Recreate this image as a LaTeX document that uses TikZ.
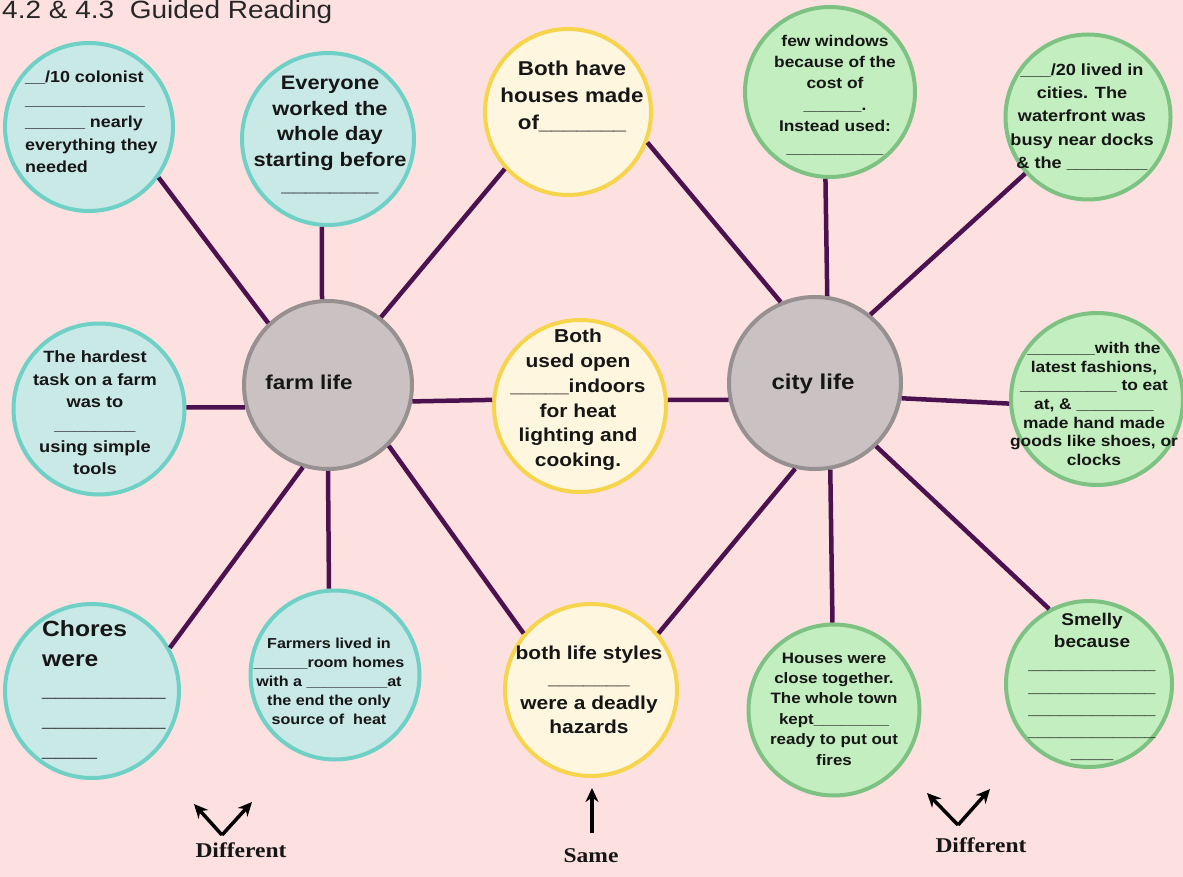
\documentclass[tikz,border=0pt]{standalone}
\usepackage{fontspec}
\setmainfont{Liberation Sans}[FakeStretch=1.12]
\newfontfamily\serifb{Liberation Serif}[FakeStretch=1.12]
\usetikzlibrary{arrows.meta}
\newcommand{\fsz}[2]{\fontsize{#1}{#2}\selectfont}
\definecolor{bgpink}{HTML}{FCE1E0}
\definecolor{tealfill}{HTML}{C9E9E7}
\definecolor{tealline}{HTML}{6FD0C6}
\definecolor{greenfill}{HTML}{C3EEBF}
\definecolor{greenline}{HTML}{7DC283}
\definecolor{yelfill}{HTML}{FFF6DF}
\definecolor{yelline}{HTML}{F6D44C}
\definecolor{greyfill}{HTML}{C9C1C2}
\definecolor{greyline}{HTML}{969090}
\definecolor{conncol}{HTML}{4B124F}
\definecolor{ink}{HTML}{161616}
\tikzset{
  circ/.style={circle, line width=4pt, inner sep=0pt, minimum size=#1},
  teal/.style={circ=#1, draw=tealline, fill=tealfill},
  grn/.style={circ=#1, draw=greenline, fill=greenfill},
  yel/.style={circ=#1, draw=yelline, fill=yelfill},
  gry/.style={circ=#1, draw=greyline, fill=greyfill},
  conn/.style={draw=conncol, line width=4.5pt},
  txt/.style={inner sep=0pt, text=ink, align=center},
  arr/.style={draw=black, line width=3.5pt, -{Stealth[length=14pt,width=13pt]}},
  lbl/.style={inner sep=0pt, text=ink, font=\serifb\bfseries\fsz{21}{24}},
}
\begin{document}
\begin{tikzpicture}[x=1pt,y=-1pt]
\useasboundingbox (0,0) rectangle (1183,877);
\fill[bgpink] (0,0) rectangle (1183,877);

\node[anchor=base west, inner sep=0pt, text=black!85, font=\fsz{25}{30}] (title) at (2,19) {4.2 \& 4.3\ \ Guided Reading};

% circles
\node[gry=168pt] (farm) at (328,385) {};
\node[gry=172pt] (city) at (815,383) {};
\node[teal=168pt] (c1) at (89,127) {};
\node[teal=172pt] (c2) at (328,139) {};
\node[yel=166pt] (c3) at (568,112) {};
\node[grn=170pt] (c4) at (830,92) {};
\node[grn=165pt] (c5) at (1088,117) {};
\node[grn=172pt] (c6) at (1097,399) {};
\node[teal=171pt] (c7) at (99,409) {};
\node[yel=172pt] (c8) at (580,406) {};
\node[yel=172pt] (c9) at (591,690) {};
\node[grn=171pt] (c10) at (834,710) {};
\node[grn=166pt] (c11) at (1089,684) {};
\node[teal=174pt] (c12) at (92,691) {};
\node[teal=169pt] (c13) at (335,675) {};

% connectors
\draw[conn] (farm.134) -- (c1.-36);
\draw[conn] (farm.94) -- (c2.-94);
\draw[conn] (farm.52) -- (c3.-138);
\draw[conn] (farm.195) -- (c7.1);
\draw[conn] (farm.-11) -- (c8.176);
\draw[conn] (farm.-107) -- (c12.29);
\draw[conn] (farm.-90) -- (c13.94);
\draw[conn] (farm.-45) -- (c9.140);
\draw[conn] (city.113) -- (c3.-21);
\draw[conn] (city.82) -- (c4.-93);
\draw[conn] (city.51) -- (c5.-138);
\draw[conn] (city.191) -- (c8.4);
\draw[conn] (city.-10) -- (c6.183);
\draw[conn] (city.-103) -- (c9.40);
\draw[conn] (city.-80) -- (c10.91);
\draw[conn] (city.-46) -- (c11.118);

% texts
\node[txt, font=\bfseries\fsz{20}{24}, anchor=base] (t14) at (309,389) {farm life};
\node[txt, font=\bfseries\fsz{21.5}{24}, anchor=base] (t15) at (813,389) {city life};

\node[txt, align=left, anchor=west, font=\bfseries\fsz{16}{22.5}] (t1) at (25,122)
  {\_\_/10 colonist\\ \_\_\_\_\_\_\_\_\_\_\_\_\\\_\_\_\_\_\_ nearly\\everything they\\needed};
\node[txt, font=\bfseries\fsz{19.5}{25.5}] (t2) at (330,135)
  {Everyone\\worked the\\whole day\\starting before\\\_\_\_\_\_\_\_\_};
\node[txt, font=\bfseries\fsz{20}{27}] (t3) at (572,96)
  {Both have\\houses made\\of\_\_\_\_\_\_\_};
\node[txt, font=\bfseries\fsz{15.5}{21.4}] (t4) at (835,95)
  {few windows\\because of the\\cost of\\\_\_\_\_\_\_.\\Instead used:\\\_\_\_\_\_\_\_\_\_\_};
\node[txt, font=\bfseries\fsz{16.2}{23.2}] (t5) at (1082,117)
  {\_\_\_/20 lived in\\cities. The\\waterfront was\\busy near docks\\\& the \_\_\_\_\_\_\_\_};
\node[txt, font=\bfseries\fsz{15.5}{18.6}] (t6) at (1094,404)
  {\_\_\_\_\_\_\_with the\\latest fashions,\\\_\_\_\_\_\_\_\_\_\_ to eat\\at, \& \_\_\_\_\_\_\_\_\\made hand made\\goods like shoes, or\\clocks};
\node[txt, font=\bfseries\fsz{16.3}{22.4}] (t7) at (95,413)
  {The hardest\\task on a farm\\was to\\\_\_\_\_\_\_\_\_\\using simple\\tools};
\node[txt, font=\bfseries\fsz{18.7}{24.8}] (t8) at (578,400)
  {Both\\used open\\\_\_\_\_\_indoors\\for heat\\lighting and\\cooking.};
\node[txt, font=\bfseries\fsz{18.7}{24.7}] (t9) at (589,690)
  {both life styles\\\_\_\_\_\_\_\_\\were a deadly\\hazards};
\node[txt, font=\bfseries\fsz{15.1}{20.4}] (t10) at (834,709)
  {Houses were\\close together.\\The whole town\\kept\_\_\_\_\_\_\_\_\\ready to put out\\fires};
\node[txt, font=\bfseries\fsz{17}{22.2}] (t11) at (1092,687)
  {Smelly\\because\\\_\_\_\_\_\_\_\_\_\_\_\_\\\_\_\_\_\_\_\_\_\_\_\_\_\\\_\_\_\_\_\_\_\_\_\_\_\_\\\_\_\_\_\_\_\_\_\_\_\_\_\\\_\_\_\_};
\node[txt, align=left, anchor=west, font=\bfseries\fsz{22}{30}] (t12) at (42,690)
  {Chores\\were\\\_\_\_\_\_\_\_\_\_\\\_\_\_\_\_\_\_\_\_\\\_\_\_\_};
\node[txt, font=\bfseries\fsz{14.4}{19}] (t13) at (329,681)
  {Farmers lived in\\\_\_\_\_\_\_room homes\\with a \_\_\_\_\_\_\_\_\_at\\the end the only\\source of\ \ heat};

% bottom arrows and labels
\coordinate (dlv) at (222,835);
\coordinate (dla) at (194,804);
\coordinate (dlb) at (252,802);
\draw[arr] (dlv) -- (dla);
\draw[arr] (dlv) -- (dlb);
\coordinate (drv) at (958,825);
\coordinate (dra) at (927,793);
\coordinate (drb) at (990,789);
\draw[arr] (drv) -- (dra);
\draw[arr] (drv) -- (drb);
\coordinate (sb) at (592,833);
\coordinate (st) at (592,788);
\draw[arr] (sb) -- (st);
\node[lbl, anchor=base] (d1) at (241,857) {Different};
\node[lbl, anchor=base] (d2) at (981,852) {Different};
\node[lbl, anchor=base] (s1) at (591,862) {Same};
\end{tikzpicture}
\end{document}
